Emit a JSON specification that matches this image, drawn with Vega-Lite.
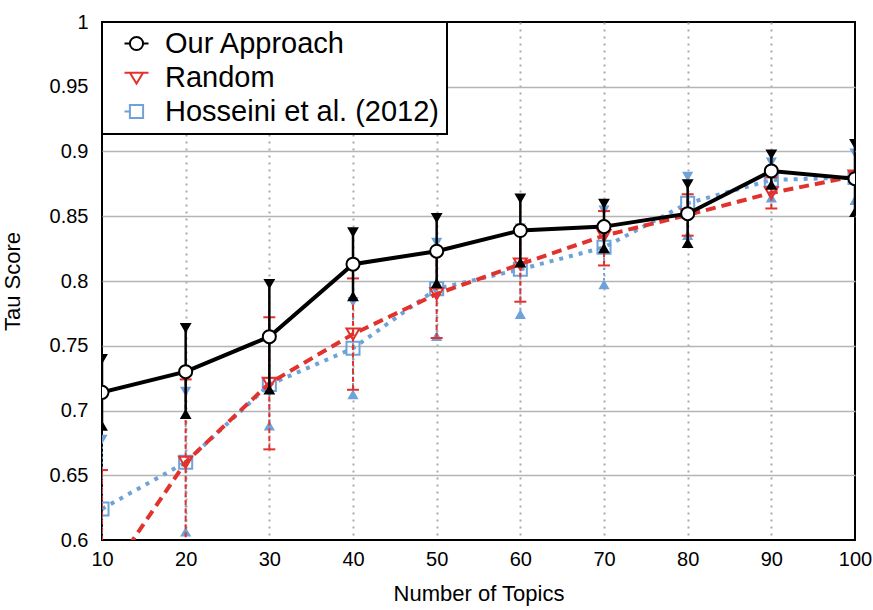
{
  "$schema": "https://vega.github.io/schema/vega-lite/v6.json",
  "width": 753,
  "height": 518,
  "autosize": {"type": "none"},
  "padding": {"left": 102, "top": 22, "right": 18, "bottom": 70},
  "background": "white",
  "config": {
    "view": {"stroke": "black", "strokeWidth": 2},
    "axis": {
      "labelFont": "Liberation Sans",
      "labelFontSize": 20,
      "labelColor": "black",
      "labelFlush": false,
      "titleFont": "Liberation Sans",
      "titleFontSize": 22,
      "titleFontWeight": "normal",
      "titleColor": "black",
      "ticks": false,
      "domain": false
    },
    "axisX": {
      "labelPadding": 9,
      "titlePadding": 14,
      "gridColor": "#aaaaaa",
      "gridDash": [2, 5],
      "gridWidth": 2
    },
    "axisY": {
      "labelPadding": 14,
      "titlePadding": 25,
      "gridColor": "#b5b5b5",
      "gridWidth": 1.5
    },
    "legend": {
      "orient": "top-left",
      "offset": 0,
      "padding": 7,
      "fillColor": "white",
      "strokeColor": "black",
      "strokeWidth": 2,
      "labelFont": "Liberation Sans",
      "labelFontSize": 29,
      "labelColor": "black",
      "labelOffset": 14,
      "symbolOffset": 13,
      "symbolSize": 576,
      "symbolStrokeWidth": 2,
      "symbolFillColor": "white",
      "rowPadding": 4,
      "labelLimit": 400
    }
  },
  "data": {
    "values": [
      {"series": "Our Approach", "x": 10, "y": 0.714, "lo": 0.688, "hi": 0.740},
      {"series": "Our Approach", "x": 20, "y": 0.730, "lo": 0.697, "hi": 0.764},
      {"series": "Our Approach", "x": 30, "y": 0.757, "lo": 0.716, "hi": 0.798},
      {"series": "Our Approach", "x": 40, "y": 0.813, "lo": 0.788, "hi": 0.838},
      {"series": "Our Approach", "x": 50, "y": 0.823, "lo": 0.798, "hi": 0.849},
      {"series": "Our Approach", "x": 60, "y": 0.839, "lo": 0.814, "hi": 0.864},
      {"series": "Our Approach", "x": 70, "y": 0.842, "lo": 0.825, "hi": 0.860},
      {"series": "Our Approach", "x": 80, "y": 0.852, "lo": 0.829, "hi": 0.875},
      {"series": "Our Approach", "x": 90, "y": 0.885, "lo": 0.874, "hi": 0.898},
      {"series": "Our Approach", "x": 100, "y": 0.879, "lo": 0.853, "hi": 0.906},
      {"series": "Random", "x": 10, "y": 0.565, "lo": 0.476, "hi": 0.654},
      {"series": "Random", "x": 20, "y": 0.660, "lo": 0.596, "hi": 0.724},
      {"series": "Random", "x": 30, "y": 0.721, "lo": 0.670, "hi": 0.772},
      {"series": "Random", "x": 40, "y": 0.759, "lo": 0.716, "hi": 0.802},
      {"series": "Random", "x": 50, "y": 0.790, "lo": 0.756, "hi": 0.822},
      {"series": "Random", "x": 60, "y": 0.813, "lo": 0.784, "hi": 0.841},
      {"series": "Random", "x": 70, "y": 0.835, "lo": 0.812, "hi": 0.854},
      {"series": "Random", "x": 80, "y": 0.851, "lo": 0.835, "hi": 0.867},
      {"series": "Random", "x": 90, "y": 0.868, "lo": 0.856, "hi": 0.880},
      {"series": "Random", "x": 100, "y": 0.881, "lo": 0.877, "hi": 0.884},
      {"series": "Hosseini et al. (2012)", "x": 10, "y": 0.624, "lo": 0.570, "hi": 0.678},
      {"series": "Hosseini et al. (2012)", "x": 20, "y": 0.660, "lo": 0.606, "hi": 0.715},
      {"series": "Hosseini et al. (2012)", "x": 30, "y": 0.720, "lo": 0.688, "hi": 0.754},
      {"series": "Hosseini et al. (2012)", "x": 40, "y": 0.748, "lo": 0.712, "hi": 0.784},
      {"series": "Hosseini et al. (2012)", "x": 50, "y": 0.794, "lo": 0.757, "hi": 0.830},
      {"series": "Hosseini et al. (2012)", "x": 60, "y": 0.809, "lo": 0.774, "hi": 0.841},
      {"series": "Hosseini et al. (2012)", "x": 70, "y": 0.826, "lo": 0.797, "hi": 0.855},
      {"series": "Hosseini et al. (2012)", "x": 80, "y": 0.860, "lo": 0.835, "hi": 0.881},
      {"series": "Hosseini et al. (2012)", "x": 90, "y": 0.878, "lo": 0.864, "hi": 0.892},
      {"series": "Hosseini et al. (2012)", "x": 100, "y": 0.880, "lo": 0.862, "hi": 0.899}
    ]
  },
  "encoding": {
    "x": {
      "field": "x",
      "type": "quantitative",
      "title": "Number of Topics",
      "scale": {"domain": [10, 100], "nice": false, "zero": false},
      "axis": {
        "values": [10, 20, 30, 40, 50, 60, 70, 80, 90, 100],
        "format": "d",
        "gridOpacity": {"condition": {"test": "datum.value == 10 || datum.value == 100", "value": 0}, "value": 1}
      }
    },
    "stroke": {
      "field": "series",
      "type": "nominal",
      "scale": {
        "domain": ["Our Approach", "Random", "Hosseini et al. (2012)"],
        "range": ["#000000", "#e2322d", "#6fa2d9"]
      },
      "legend": {
        "title": null,
        "encode": {
          "symbols": {
            "update": {
              "shape": {"signal": "datum.value === 'Our Approach' ? 'M-1,0H-0.55M0.55,0H1M0.55,0A0.55,0.55,0,1,1,-0.55,0A0.55,0.55,0,1,1,0.55,0Z' : datum.value === 'Random' ? 'M-1,-0.4H1M-0.55,-0.4L0,0.5L0.55,-0.4Z' : 'M-1,0H-0.55M-0.55,-0.55H0.55V0.55H-0.55Z'"},
              "fill": {"value": "white"},
              "strokeWidth": {"value": 2}
            }
          }
        }
      }
    }
  },
  "layer": [
    {
      "transform": [{"filter": "datum.series === 'Hosseini et al. (2012)'"}],
      "layer": [
        {
          "mark": {"type": "rule", "strokeWidth": 2, "strokeDash": [2, 3], "clip": true},
          "encoding": {
            "y": {
              "field": "lo", "type": "quantitative", "title": "Tau Score",
              "scale": {"domain": [0.6, 1], "nice": false, "zero": false},
              "axis": {
                "values": [0.6, 0.65, 0.7, 0.75, 0.8, 0.85, 0.9, 0.95, 1],
                "format": ".2~f",
                "gridOpacity": {"condition": {"test": "datum.value < 0.61 || datum.value > 0.99", "value": 0}, "value": 1}
              }
            },
            "y2": {"field": "hi"}
          }
        },
        {
          "mark": {"type": "point", "shape": "triangle-down", "filled": true, "fill": "#6fa2d9", "size": 60, "opacity": 1, "clip": true},
          "encoding": {"y": {"field": "hi", "type": "quantitative", "title": "Tau Score"}}
        },
        {
          "mark": {"type": "point", "shape": "triangle-up", "filled": true, "fill": "#6fa2d9", "size": 60, "opacity": 1, "clip": true},
          "encoding": {"y": {"field": "lo", "type": "quantitative", "title": "Tau Score"}}
        },
        {
          "mark": {"type": "line", "strokeWidth": 4, "strokeDash": [4, 6], "clip": true},
          "encoding": {"y": {"field": "y", "type": "quantitative", "title": "Tau Score"}}
        },
        {
          "mark": {"type": "point", "shape": "square", "filled": false, "strokeWidth": 2, "size": 170, "opacity": 1, "clip": true},
          "encoding": {"y": {"field": "y", "type": "quantitative", "title": "Tau Score"}}
        }
      ]
    },
    {
      "transform": [{"filter": "datum.series === 'Random'"}],
      "layer": [
        {
          "mark": {"type": "rule", "strokeWidth": 2, "strokeDash": [5, 3], "clip": true},
          "encoding": {
            "y": {"field": "lo", "type": "quantitative", "title": "Tau Score"},
            "y2": {"field": "hi"}
          }
        },
        {
          "mark": {"type": "point", "shape": "stroke", "filled": false, "size": 144, "strokeWidth": 2, "opacity": 1, "clip": true},
          "encoding": {"y": {"field": "hi", "type": "quantitative", "title": "Tau Score"}}
        },
        {
          "mark": {"type": "point", "shape": "stroke", "filled": false, "size": 144, "strokeWidth": 2, "opacity": 1, "clip": true},
          "encoding": {"y": {"field": "lo", "type": "quantitative", "title": "Tau Score"}}
        },
        {
          "mark": {"type": "line", "strokeWidth": 4, "strokeDash": [10, 6], "clip": true},
          "encoding": {"y": {"field": "y", "type": "quantitative", "title": "Tau Score"}}
        },
        {
          "mark": {"type": "point", "shape": "triangle-down", "filled": false, "strokeWidth": 2, "size": 170, "opacity": 1, "clip": true},
          "encoding": {"y": {"field": "y", "type": "quantitative", "title": "Tau Score"}}
        }
      ]
    },
    {
      "transform": [{"filter": "datum.series === 'Our Approach'"}],
      "layer": [
        {
          "mark": {"type": "rule", "strokeWidth": 2.5, "clip": true},
          "encoding": {
            "y": {"field": "lo", "type": "quantitative", "title": "Tau Score"},
            "y2": {"field": "hi"}
          }
        },
        {
          "mark": {"type": "point", "shape": "triangle-down", "filled": true, "fill": "#000000", "size": 70, "opacity": 1, "clip": true},
          "encoding": {"y": {"field": "hi", "type": "quantitative", "title": "Tau Score"}}
        },
        {
          "mark": {"type": "point", "shape": "triangle-up", "filled": true, "fill": "#000000", "size": 70, "opacity": 1, "clip": true},
          "encoding": {"y": {"field": "lo", "type": "quantitative", "title": "Tau Score"}}
        },
        {
          "mark": {"type": "line", "strokeWidth": 4, "clip": true},
          "encoding": {"y": {"field": "y", "type": "quantitative", "title": "Tau Score"}}
        },
        {
          "mark": {"type": "point", "shape": "circle", "filled": false, "fill": "white", "strokeWidth": 2, "size": 170, "opacity": 1, "clip": true},
          "encoding": {"y": {"field": "y", "type": "quantitative", "title": "Tau Score"}}
        }
      ]
    }
  ]
}
